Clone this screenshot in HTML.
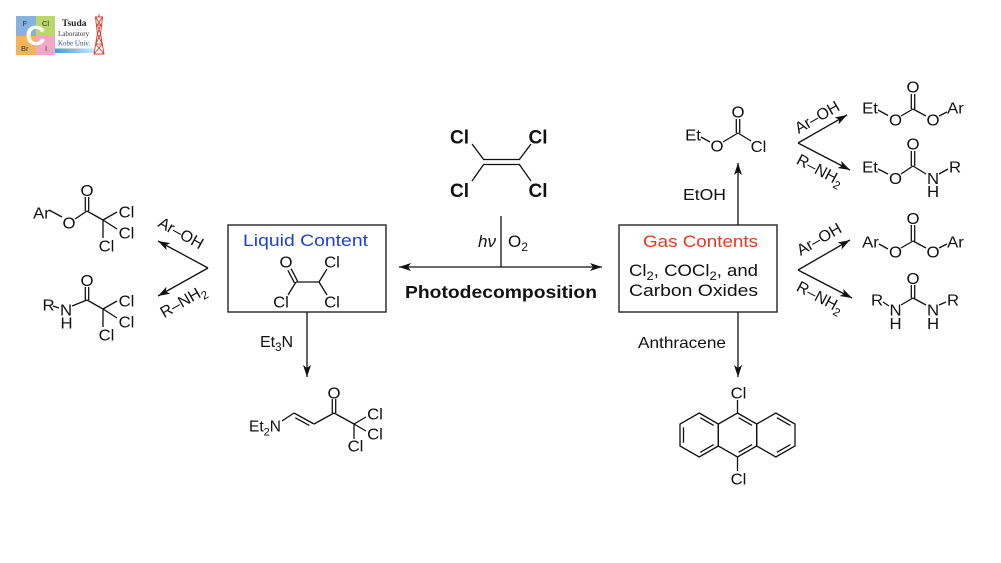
<!DOCTYPE html>
<html>
<head>
<meta charset="utf-8">
<style>
  html,body{margin:0;padding:0;background:#fff;}
  body{width:1001px;height:563px;overflow:hidden;}
  svg{display:block;}
  text{font-family:"Liberation Sans",Arial,sans-serif;fill:#111;}
  .a{font-size:15.5px;}
  .a text{transform-box:fill-box;transform-origin:center;transform:scaleX(1.08);}
  .b{stroke:#111;stroke-width:1.3;fill:none;}
</style>
</head>
<body>
<svg width="1001" height="563" viewBox="0 0 1001 563" xmlns="http://www.w3.org/2000/svg">
  <defs>
    <marker id="ah" markerUnits="userSpaceOnUse" markerWidth="12" markerHeight="8" refX="12" refY="4" orient="auto-start-reverse" viewBox="0 0 12 8">
      <path d="M0,0 L12,4 L0,8 L3,4 Z" fill="#111"/>
    </marker>
    <linearGradient id="bar" x1="0" x2="1" y1="0" y2="0">
      <stop offset="0" stop-color="#3b9fe0"/>
      <stop offset="1" stop-color="#c8e8f8"/>
    </linearGradient>
  </defs>

  <!-- ===== Logo ===== -->
  <g>
    <rect x="16" y="16" width="20" height="20" fill="#86b3dd"/>
    <rect x="36" y="16" width="19" height="20" fill="#b9d76b"/>
    <rect x="16" y="36" width="20" height="19" fill="#f3b45a"/>
    <rect x="36" y="36" width="19" height="19" fill="#f2a7c6"/>
    <text x="35.5" y="45" font-size="28" font-weight="bold" text-anchor="middle" style="fill:#fff">C</text>
    <text x="22.5" y="26" font-size="7.5" style="fill:#333">F</text>
    <text x="42" y="26" font-size="7.5" style="fill:#333">Cl</text>
    <text x="21" y="51" font-size="7.5" style="fill:#333">Br</text>
    <text x="45" y="51" font-size="7.5" style="fill:#333">I</text>
    <text x="62" y="26" font-size="9.5" font-weight="bold" style="font-family:'Liberation Serif',serif;fill:#222">Tsuda</text>
    <text x="58" y="36" font-size="7" style="font-family:'Liberation Serif',serif;fill:#333">Laboratory</text>
    <text x="58" y="45.5" font-size="7" style="font-family:'Liberation Serif',serif;fill:#2b4aa5">Kobe Univ.</text>
    <rect x="55" y="48.5" width="40" height="4.5" fill="url(#bar)"/>
    <g stroke="#d43a2a" stroke-width="0.9" fill="none">
      <polygon points="95.5,17 102.5,17 100.6,34 104,54 94,54 97.4,34"/>
      <line x1="99" y1="14" x2="99" y2="17"/>
      <line x1="95.5" y1="17" x2="100.6" y2="25"/><line x1="102.5" y1="17" x2="97.4" y2="25"/>
      <line x1="97.4" y1="25" x2="100.6" y2="34"/><line x1="100.6" y1="25" x2="97.4" y2="34"/>
      <line x1="97.4" y1="34" x2="102.3" y2="44"/><line x1="100.6" y1="34" x2="95.7" y2="44"/>
      <line x1="95.7" y1="44" x2="104" y2="54"/><line x1="102.3" y1="44" x2="94" y2="54"/>
      <line x1="96" y1="25" x2="102" y2="25"/><line x1="95.7" y1="44" x2="102.3" y2="44"/>
    </g>
  </g>

  <!-- ===== Center: tetrachloroethylene ===== -->
  <g class="b">
    <line x1="484" y1="159.5" x2="519" y2="159.5"/>
    <line x1="484" y1="164.5" x2="519" y2="164.5"/>
    <line x1="484" y1="160" x2="472" y2="144"/>
    <line x1="484" y1="164" x2="472" y2="181"/>
    <line x1="519" y1="160" x2="531" y2="144"/>
    <line x1="519" y1="164" x2="531" y2="181"/>
  </g>
  <g font-size="19" font-weight="bold" text-anchor="middle">
    <text x="459.5" y="143.3">Cl</text>
    <text x="538" y="143.3">Cl</text>
    <text x="459.5" y="196.8">Cl</text>
    <text x="538" y="196.8">Cl</text>
  </g>

  <!-- central arrows -->
  <line class="b" x1="501" y1="216" x2="501" y2="267"/>
  <line class="b" x1="399" y1="267" x2="602" y2="267" marker-start="url(#ah)" marker-end="url(#ah)"/>
  <text x="496" y="247" font-size="17" font-style="italic" text-anchor="end">hν</text>
  <text x="508" y="247" font-size="17">O<tspan font-size="12" dy="4">2</tspan></text>
  <text x="405" y="298" font-size="17.5" font-weight="bold" textLength="192" lengthAdjust="spacingAndGlyphs">Photodecomposition</text>

  <!-- ===== Liquid Content box ===== -->
  <rect x="228" y="225" width="158" height="87" fill="none" stroke="#333" stroke-width="1.5"/>
  <text x="243" y="246" font-size="17" textLength="125" lengthAdjust="spacingAndGlyphs" style="fill:#1f40d4">Liquid Content</text>
  <g class="b">
    <line x1="297.6" y1="281.2" x2="291.1" y2="268.7"/>
    <line x1="294.4" y1="282.8" x2="287.9" y2="270.3"/>
    <line x1="296" y1="282" x2="288" y2="295"/>
    <line x1="296" y1="282" x2="319" y2="282"/>
    <line x1="319" y1="282" x2="327" y2="269"/>
    <line x1="319" y1="282" x2="327" y2="295"/>
  </g>
  <g class="a" text-anchor="middle">
    <text x="286" y="267.6">O</text>
    <text x="332" y="267.6">Cl</text>
    <text x="281" y="307.6">Cl</text>
    <text x="332" y="307.6">Cl</text>
  </g>

  <!-- Et3N arrow -->
  <line class="b" x1="307" y1="312" x2="307" y2="377" marker-end="url(#ah)"/>
  <text x="260" y="347" font-size="16">Et<tspan font-size="11.5" dy="4">3</tspan><tspan dy="-4">N</tspan></text>

  <!-- enaminone -->
  <g class="b">
    <line x1="282" y1="421" x2="294" y2="413"/>
    <line x1="294" y1="413" x2="314" y2="424"/>
    <line x1="295.3" y1="417.8" x2="309.3" y2="425.4"/>
    <line x1="314" y1="424" x2="334" y2="413"/>
    <line x1="332.3" y1="413" x2="332.3" y2="399"/>
    <line x1="335.7" y1="413" x2="335.7" y2="399"/>
    <line x1="334" y1="413" x2="354" y2="424"/>
    <line x1="354" y1="424" x2="366" y2="417"/>
    <line x1="354" y1="424" x2="366" y2="431"/>
    <line x1="354" y1="424" x2="354" y2="439"/>
  </g>
  <text x="281" y="431.5" font-size="15.5" text-anchor="end">Et<tspan font-size="11" dy="4">2</tspan><tspan dy="-4">N</tspan></text>
  <g class="a" text-anchor="middle">
    <text x="334" y="398.6">O</text>
    <text x="375" y="419.6">Cl</text>
    <text x="375" y="439.6">Cl</text>
    <text x="355.5" y="451.6">Cl</text>
  </g>

  <!-- ===== Left reactions ===== -->
  <line class="b" x1="208" y1="268" x2="158" y2="241" marker-end="url(#ah)"/>
  <line class="b" x1="208" y1="268" x2="158" y2="296" marker-end="url(#ah)"/>
  <text font-size="16" text-anchor="middle" transform="translate(181,233) rotate(29)" y="5.5">Ar–OH</text>
  <text font-size="16" text-anchor="middle" transform="translate(183,301) rotate(-30)" y="5.5">R–NH<tspan font-size="11.5" dy="4">2</tspan></text>

  <!-- aryl trichloroacetate -->
  <g class="b">
    <line x1="49" y1="210" x2="62" y2="217"/>
    <line x1="75" y1="219" x2="87" y2="211"/>
    <line x1="85.3" y1="211" x2="85.3" y2="197"/>
    <line x1="88.7" y1="211" x2="88.7" y2="197"/>
    <line x1="87" y1="211" x2="103" y2="220"/>
    <line x1="103" y1="220" x2="117" y2="212"/>
    <line x1="103" y1="220" x2="117" y2="229"/>
    <line x1="103" y1="220" x2="103" y2="238"/>
  </g>
  <g class="a" text-anchor="middle">
    <text x="41.5" y="218.6">Ar</text>
    <text x="69" y="228.6">O</text>
    <text x="87" y="196">O</text>
    <text x="126.5" y="217.6">Cl</text>
    <text x="126.5" y="238.6">Cl</text>
    <text x="106.5" y="251.6">Cl</text>
  </g>

  <!-- trichloroacetamide -->
  <g class="b">
    <line x1="53" y1="306" x2="59" y2="308"/>
    <line x1="72" y1="306" x2="87" y2="300"/>
    <line x1="85.3" y1="300" x2="85.3" y2="287"/>
    <line x1="88.7" y1="300" x2="88.7" y2="287"/>
    <line x1="87" y1="300" x2="103" y2="309"/>
    <line x1="103" y1="309" x2="117" y2="301"/>
    <line x1="103" y1="309" x2="117" y2="318"/>
    <line x1="103" y1="309" x2="103" y2="327"/>
  </g>
  <g class="a" text-anchor="middle">
    <text x="48.5" y="310.6">R</text>
    <text x="66" y="315.6">N</text>
    <text x="66.5" y="328.6">H</text>
    <text x="87" y="286">O</text>
    <text x="126.5" y="306.6">Cl</text>
    <text x="126.5" y="327.6">Cl</text>
    <text x="106.5" y="340.6">Cl</text>
  </g>

  <!-- ===== Gas Contents box ===== -->
  <rect x="619" y="225" width="158" height="87" fill="none" stroke="#333" stroke-width="1.5"/>
  <text x="643" y="247" font-size="17" textLength="115" lengthAdjust="spacingAndGlyphs" style="fill:#e5391f">Gas Contents</text>
  <text x="629" y="276" font-size="17" textLength="129" lengthAdjust="spacingAndGlyphs">Cl<tspan font-size="12" dy="4">2</tspan><tspan dy="-4">, COCl</tspan><tspan font-size="12" dy="4">2</tspan><tspan dy="-4">, and</tspan></text>
  <text x="629" y="296" font-size="17" textLength="129" lengthAdjust="spacingAndGlyphs">Carbon Oxides</text>

  <!-- EtOH arrow -->
  <line class="b" x1="738" y1="225" x2="738" y2="163" marker-end="url(#ah)"/>
  <text x="683" y="200" font-size="16" textLength="43" lengthAdjust="spacingAndGlyphs">EtOH</text>

  <!-- ethyl chloroformate -->
  <g class="b">
    <line x1="701" y1="137" x2="710" y2="142"/>
    <line x1="723" y1="142" x2="738" y2="133"/>
    <line x1="736.3" y1="133" x2="736.3" y2="119"/>
    <line x1="739.7" y1="133" x2="739.7" y2="119"/>
    <line x1="738" y1="133" x2="751" y2="141"/>
  </g>
  <g class="a" text-anchor="middle">
    <text x="693" y="140.6">Et</text>
    <text x="717" y="151.6">O</text>
    <text x="738" y="117.6">O</text>
    <text x="758.5" y="152.1">Cl</text>
  </g>

  <!-- Anthracene arrow -->
  <line class="b" x1="738" y1="312" x2="738" y2="377" marker-end="url(#ah)"/>
  <text x="638" y="348" font-size="16" textLength="88" lengthAdjust="spacingAndGlyphs">Anthracene</text>

  <!-- 9,10-dichloroanthracene -->
  <g class="b">
    <polygon points="699.2,413 718.3,424 718.3,446 699.2,457 680,446 680,424"/>
    <polygon points="737.5,413 756.7,424 756.7,446 737.5,457 718.3,446 718.3,424"/>
    <polygon points="775.8,413 795,424 795,446 775.8,457 756.7,446 756.7,424"/>
    <line x1="700.3" y1="417.7" x2="713.7" y2="425.4"/>
    <line x1="683.5" y1="427.3" x2="683.5" y2="442.7"/>
    <line x1="713.7" y1="444.6" x2="700.3" y2="452.3"/>
    <line x1="738.6" y1="417.7" x2="752.1" y2="425.4"/>
    <line x1="752.1" y1="444.6" x2="738.6" y2="452.3"/>
    <line x1="776.9" y1="417.7" x2="790.4" y2="425.4"/>
    <line x1="790.4" y1="444.6" x2="776.9" y2="452.3"/>
    <line x1="737.5" y1="413" x2="737.5" y2="400"/>
    <line x1="737.5" y1="457" x2="737.5" y2="471"/>
  </g>
  <g class="a" text-anchor="middle">
    <text x="738.5" y="398.6">Cl</text>
    <text x="738.5" y="484.6">Cl</text>
  </g>

  <!-- ===== Right reactions (top) ===== -->
  <line class="b" x1="798" y1="143" x2="847" y2="115" marker-end="url(#ah)"/>
  <line class="b" x1="798" y1="143" x2="850" y2="170" marker-end="url(#ah)"/>
  <text font-size="16" text-anchor="middle" transform="translate(817,117) rotate(-30)" y="5.5">Ar–OH</text>
  <text font-size="16" text-anchor="middle" transform="translate(820,170) rotate(28)" y="5.5">R–NH<tspan font-size="11.5" dy="4">2</tspan></text>

  <!-- ethyl aryl carbonate -->
  <g class="b">
    <line x1="878" y1="110" x2="888" y2="115.5"/>
    <line x1="901" y1="116" x2="913" y2="109"/>
    <line x1="911.3" y1="109" x2="911.3" y2="94"/>
    <line x1="914.7" y1="109" x2="914.7" y2="94"/>
    <line x1="913" y1="109" x2="926" y2="116"/>
    <line x1="939" y1="116" x2="947" y2="112"/>
  </g>
  <g class="a" text-anchor="middle">
    <text x="870" y="113.6">Et</text>
    <text x="895.5" y="125.6">O</text>
    <text x="913" y="92.6">O</text>
    <text x="933" y="125.6">O</text>
    <text x="955.5" y="113.6">Ar</text>
  </g>

  <!-- ethyl carbamate -->
  <g class="b">
    <line x1="878" y1="169" x2="888" y2="174"/>
    <line x1="901" y1="174" x2="913" y2="166"/>
    <line x1="911.3" y1="166" x2="911.3" y2="151"/>
    <line x1="914.7" y1="166" x2="914.7" y2="151"/>
    <line x1="913" y1="166" x2="926" y2="174"/>
    <line x1="939" y1="174" x2="948" y2="169"/>
  </g>
  <g class="a" text-anchor="middle">
    <text x="870" y="172.6">Et</text>
    <text x="895.5" y="184.1">O</text>
    <text x="913" y="149.6">O</text>
    <text x="933" y="184.1">N</text>
    <text x="933" y="197">H</text>
    <text x="955" y="172.6">R</text>
  </g>

  <!-- ===== Right reactions (middle) ===== -->
  <line class="b" x1="798" y1="270" x2="850" y2="240" marker-end="url(#ah)"/>
  <line class="b" x1="798" y1="270" x2="852" y2="298" marker-end="url(#ah)"/>
  <text font-size="16" text-anchor="middle" transform="translate(819,239) rotate(-30)" y="5.5">Ar–OH</text>
  <text font-size="16" text-anchor="middle" transform="translate(820,297) rotate(28)" y="5.5">R–NH<tspan font-size="11.5" dy="4">2</tspan></text>

  <!-- diaryl carbonate -->
  <g class="b">
    <line x1="879" y1="244" x2="888" y2="249"/>
    <line x1="901" y1="248" x2="913" y2="241"/>
    <line x1="911.3" y1="241" x2="911.3" y2="225"/>
    <line x1="914.7" y1="241" x2="914.7" y2="225"/>
    <line x1="913" y1="241" x2="926" y2="248"/>
    <line x1="939" y1="248" x2="947" y2="244"/>
  </g>
  <g class="a" text-anchor="middle">
    <text x="870.5" y="247.6">Ar</text>
    <text x="895.5" y="257.6">O</text>
    <text x="913" y="224.1">O</text>
    <text x="933" y="257.6">O</text>
    <text x="955.5" y="247.6">Ar</text>
  </g>

  <!-- urea -->
  <g class="b">
    <line x1="883" y1="302" x2="889" y2="306"/>
    <line x1="901" y1="305" x2="913" y2="298"/>
    <line x1="911.3" y1="298" x2="911.3" y2="285"/>
    <line x1="914.7" y1="298" x2="914.7" y2="285"/>
    <line x1="913" y1="298" x2="926" y2="305"/>
    <line x1="939" y1="305" x2="946" y2="302"/>
  </g>
  <g class="a" text-anchor="middle">
    <text x="877" y="305.6">R</text>
    <text x="895.5" y="315.6">N</text>
    <text x="895.5" y="329">H</text>
    <text x="913" y="284.1">O</text>
    <text x="933" y="315.6">N</text>
    <text x="933" y="329">H</text>
    <text x="953" y="305.6">R</text>
  </g>
</svg>
</body>
</html>
